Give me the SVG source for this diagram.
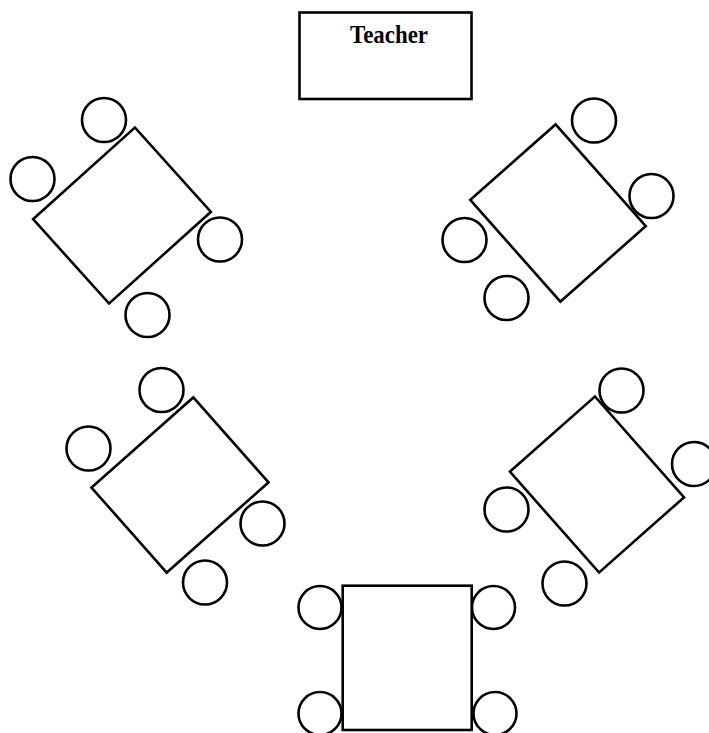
<svg xmlns="http://www.w3.org/2000/svg" width="709" height="733" viewBox="0 0 709 733">
  <style>
    .desk { fill: #ffffff; stroke: #000000; stroke-width: 2.6; }
    .seat { fill: none; stroke: #000000; stroke-width: 2.6; }
    .label { font-family: "Liberation Serif", "Times New Roman", serif; font-weight: bold; font-size: 25px; fill: #000000; }
  </style>
  <rect x="0" y="0" width="709" height="733" fill="#ffffff"/>

  <!-- Teacher's desk -->
  <g id="teacher">
    <rect class="desk" x="299.5" y="12.5" width="172" height="86.5"/>
    <text class="label" x="389" y="43" text-anchor="middle" textLength="78" lengthAdjust="spacingAndGlyphs">Teacher</text>
  </g>

  <!-- Upper left group -->
  <g id="group-upper-left">
    <rect class="desk" x="-68.5" y="-56.75" width="137" height="113.5" transform="translate(122 215.5) rotate(-42)"/>
    <circle class="seat" cx="104" cy="120" r="22"/>
    <circle class="seat" cx="32.5" cy="179" r="22"/>
    <circle class="seat" cx="220" cy="239.5" r="22"/>
    <circle class="seat" cx="147.5" cy="315" r="22"/>
  </g>

  <!-- Upper right group -->
  <g id="group-upper-right">
    <rect class="desk" x="-57" y="-68" width="114" height="136" transform="translate(558 213) rotate(-41.5)"/>
    <circle class="seat" cx="594" cy="120.5" r="22"/>
    <circle class="seat" cx="651.5" cy="196" r="22"/>
    <circle class="seat" cx="464.5" cy="240" r="22"/>
    <circle class="seat" cx="506.5" cy="298" r="22"/>
  </g>

  <!-- Middle left group -->
  <g id="group-middle-left">
    <rect class="desk" x="-68" y="-56.75" width="136" height="113.5" transform="translate(180 485) rotate(-41.5)"/>
    <circle class="seat" cx="161.5" cy="390" r="22"/>
    <circle class="seat" cx="88.5" cy="448.5" r="22"/>
    <circle class="seat" cx="262.5" cy="523.5" r="22"/>
    <circle class="seat" cx="205" cy="582.5" r="22"/>
  </g>

  <!-- Middle right group -->
  <g id="group-middle-right">
    <rect class="desk" x="-56.75" y="-67.25" width="113.5" height="134.5" transform="translate(597 484.5) rotate(-41.5)"/>
    <circle class="seat" cx="621.5" cy="390.5" r="22"/>
    <circle class="seat" cx="694" cy="464" r="22"/>
    <circle class="seat" cx="506.5" cy="509.5" r="22"/>
    <circle class="seat" cx="564.5" cy="583.5" r="22"/>
  </g>

  <!-- Bottom group -->
  <g id="group-bottom">
    <circle class="seat" cx="320" cy="607.5" r="21.5"/>
    <circle class="seat" cx="493.5" cy="607.5" r="21.5"/>
    <circle class="seat" cx="320" cy="713.5" r="21.5"/>
    <circle class="seat" cx="495" cy="713.5" r="21.5"/>
    <rect class="desk" x="342.7" y="585.7" width="129" height="144.3"/>
  </g>

  <!-- No connectors in this layout -->
  <g id="connectors"/>
</svg>
